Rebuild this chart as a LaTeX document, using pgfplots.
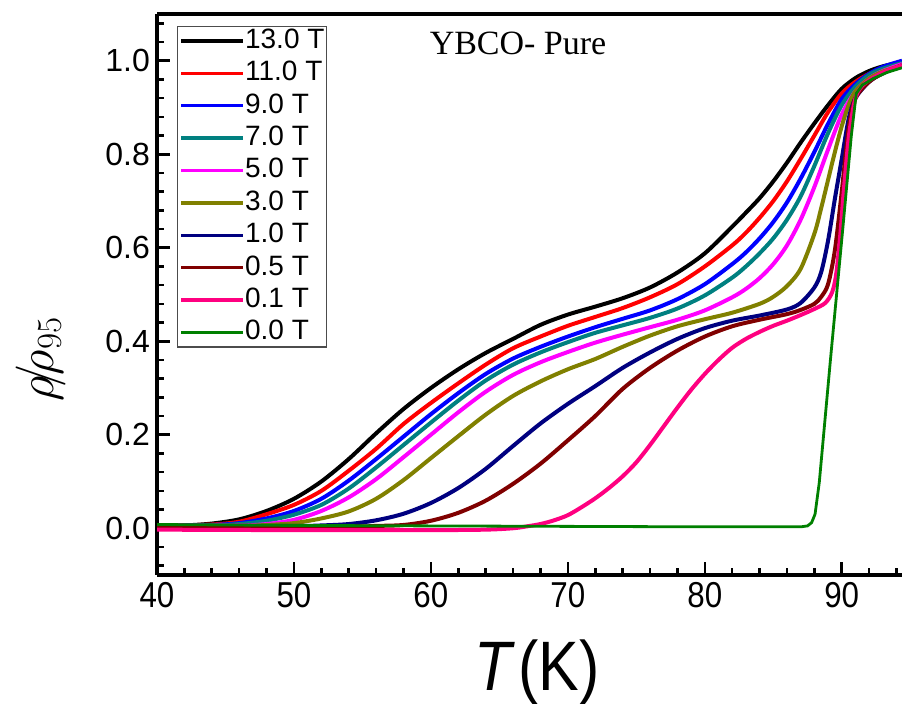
\RequirePackage{fix-cm}
\documentclass[border=0pt]{standalone}
\usepackage{fontspec}
\setmainfont{Liberation Sans}
\newfontfamily\narrowsans[FakeStretch=0.87]{Liberation Sans}
\newfontfamily\timesfont{Liberation Serif}
\usepackage{pgfplots}
\pgfplotsset{compat=1.18}

\definecolor{cteal}{RGB}{0,128,128}
\definecolor{cmagenta}{RGB}{255,0,255}
\definecolor{colive}{RGB}{128,128,0}
\definecolor{cnavy}{RGB}{0,0,128}
\definecolor{cmaroon}{RGB}{128,0,0}
\definecolor{cpink}{RGB}{255,0,128}
\definecolor{cgreen}{RGB}{0,128,0}

\begin{document}
\begin{tikzpicture}
\begin{axis}[%
scale only axis,
width=372.5pt,
height=280.5pt,
xmin=40, xmax=94.4,
ymin=-0.1, ymax=1.1,
axis x line*=box,
axis y line*=left,
xtick pos=left,
ytick pos=left,
axis line style={line width=2pt},
tick style={line width=1.3pt, black},
major tick length=6.5pt,
minor tick length=3.5pt,
xtick={40,50,60,70,80,90},
ytick={0,0.2,0.4,0.6,0.8,1.0},
minor xtick={40,42,...,94},
minor ytick={-0.08,-0.04,...,1.09},
/pgf/number format/assume math mode=true,
xticklabel style={font=\narrowsans\fontsize{18}{20}\selectfont},
yticklabel style={font=\fontsize{16}{18}\selectfont,
  /pgf/number format/.cd,fixed,fixed zerofill,precision=1},
xlabel={{\narrowsans\fontsize{35}{40}\selectfont\textit{T}\kern1.5pt(K)}},
xlabel style={at={(axis description cs:0.51,-0.205)},anchor=base},
ylabel={\fontsize{25}{28}\selectfont$\rho\mkern-4mu/\mkern-4mu\rho_{95}$},
ylabel style={at={(axis description cs:-0.156,0.385)},anchor=center},
legend style={at={(0.027,0.979)},anchor=north west,
  draw=black!70, line width=0.6pt, inner xsep=1pt, inner ysep=0pt,
  font=\fontsize{14}{16}\selectfont, row sep=1.7pt,
  nodes={inner sep=0pt, text height=11pt, text depth=3.5pt}},
legend cell align=left,
legend image code/.code={\draw[#1,line width=1.7pt] (0pt,0pt) -- (31pt,0pt);},
every axis plot/.append style={line width=2pt},
]

% 13.0 T
\addplot [black, smooth] coordinates {
(40,0.005)(42,0.006)(44,0.010)(46,0.019)(48,0.037)(50,0.063)(52,0.1)(54,0.148)
(56,0.203)(58,0.255)(60,0.30)(62,0.34)(64,0.375)(66,0.405)(68,0.435)(70,0.457)
(72,0.474)(74,0.492)(76,0.515)(78,0.547)(80,0.588)(82,0.645)(83,0.675)(84,0.706)
(85,0.742)(86,0.782)(87,0.825)(88,0.866)(89,0.905)(90,0.94)(91,0.963)(92,0.978)
(93,0.988)(94.4,0.998)
};
% 11.0 T
\addplot [red, smooth] coordinates {
(40,0.005)(44,0.008)(46,0.014)(48,0.03)(50,0.05)(52,0.08)(54,0.123)(56,0.17)
(58,0.223)(60,0.268)(62,0.31)(64,0.35)(66,0.385)(68,0.41)(70,0.433)(72,0.452)
(74,0.471)(76,0.494)(78,0.522)(80,0.56)(82,0.605)(83,0.632)(84,0.664)(85,0.70)
(86,0.742)(87,0.79)(88,0.84)(89,0.89)(90,0.93)(91,0.955)(92,0.972)(93,0.984)
(94.4,0.996)
};
% 9.0 T
\addplot [blue, smooth] coordinates {
(40,0.005)(44,0.007)(46,0.011)(48,0.021)(50,0.037)(52,0.063)(54,0.102)(56,0.148)
(58,0.196)(60,0.244)(62,0.289)(64,0.33)(66,0.363)(68,0.388)(70,0.41)(72,0.43)
(74,0.448)(76,0.466)(78,0.49)(80,0.522)(82,0.565)(83,0.59)(84,0.62)(85,0.655)
(86,0.697)(87,0.748)(88,0.805)(89,0.865)(90,0.918)(91,0.95)(92,0.972)(93,0.987)
(94.4,1.0)
};
% 7.0 T
\addplot [cteal, smooth] coordinates {
(40,0.005)(44,0.006)(46,0.009)(48,0.016)(50,0.029)(52,0.05)(54,0.085)(56,0.13)
(58,0.178)(60,0.226)(62,0.273)(64,0.316)(66,0.35)(68,0.376)(70,0.398)(72,0.418)
(74,0.434)(76,0.45)(78,0.47)(80,0.498)(82,0.536)(83,0.56)(84,0.588)(85,0.62)
(86,0.66)(87,0.71)(88,0.775)(89,0.845)(90,0.905)(91,0.945)(92,0.97)(93,0.983)
(94.4,0.995)
};
% 5.0 T
\addplot [cmagenta, smooth] coordinates {
(40,0.005)(46,0.006)(48,0.009)(50,0.018)(52,0.037)(54,0.066)(56,0.105)(58,0.152)
(60,0.2)(62,0.248)(64,0.292)(66,0.328)(68,0.355)(70,0.377)(72,0.397)(74,0.414)
(76,0.43)(78,0.446)(80,0.466)(82,0.494)(83,0.512)(84,0.535)(85,0.565)(86,0.605)
(87,0.66)(88,0.73)(89,0.81)(90,0.885)(91,0.935)(92,0.962)(93,0.978)(94.4,0.993)
};
% 3.0 T
\addplot [colive, smooth] coordinates {
(40,0.005)(46,0.005)(48,0.007)(50,0.011)(52,0.021)(54,0.036)(56,0.063)(58,0.103)
(60,0.15)(62,0.197)(64,0.243)(66,0.283)(68,0.314)(70,0.34)(72,0.362)(74,0.388)
(76,0.412)(78,0.432)(80,0.447)(82,0.461)(84,0.48)(85,0.495)(86,0.518)(87,0.555)
(88,0.63)(88.5,0.685)(89,0.745)(89.5,0.805)(90,0.86)(90.5,0.905)(91,0.935)
(92,0.962)(93,0.977)(94.4,0.99)
};
% 1.0 T
\addplot [cnavy, smooth] coordinates {
(40,0.005)(50,0.005)(52,0.006)(54,0.009)(56,0.017)(58,0.031)(60,0.054)(62,0.086)
(64,0.127)(66,0.176)(68,0.224)(70,0.266)(72,0.304)(74,0.343)(76,0.376)(78,0.405)
(80,0.428)(82,0.444)(84,0.455)(86,0.468)(87,0.482)(88,0.515)(88.5,0.548)(89,0.615)
(89.5,0.705)(90,0.79)(90.5,0.875)(91,0.92)(92,0.955)(93,0.973)(94.4,0.99)
};
% 0.5 T
\addplot [cmaroon, smooth] coordinates {
(40,0.004)(54,0.004)(56,0.005)(58,0.007)(60,0.016)(62,0.033)(64,0.059)(66,0.095)
(68,0.138)(70,0.188)(72,0.24)(74,0.298)(76,0.343)(78,0.38)(80,0.41)(82,0.432)
(84,0.446)(86,0.458)(87,0.467)(88,0.48)(88.5,0.495)(89,0.522)(89.5,0.595)(90,0.72)
(90.5,0.855)(91,0.92)(92,0.955)(93,0.973)(94.4,0.99)
};
% 0.1 T
\addplot [cpink, smooth] coordinates {
(40,-0.003)(50,-0.004)(60,-0.004)(64,-0.003)(66,0.0)(67,0.004)(68,0.009)(69,0.017)
(70,0.028)(71,0.045)(72,0.064)(73,0.086)(74,0.111)(75,0.141)(76,0.178)(77,0.218)
(78,0.258)(79,0.296)(80,0.33)(81,0.36)(82,0.386)(83,0.405)(84,0.42)(85,0.433)
(86,0.444)(87,0.456)(88,0.469)(88.8,0.482)(89.3,0.505)(89.6,0.545)(89.9,0.63)
(90.2,0.74)(90.55,0.845)(91.03,0.923)(91.7,0.952)(93,0.975)(94.4,0.99)
};
% 0.0 T
\addplot [cgreen, line width=1.4pt] coordinates {
(40,0.008)(50,0.006)(60,0.005)(70,0.004)(80,0.003)(87,0.003)(87.5,0.005)(87.8,0.012)
(88.05,0.03)(88.36,0.098)(89.16,0.356)(90.06,0.636)(90.7,0.84)(91.06,0.93)(91.5,0.948)
(92.3,0.962)(93.3,0.975)(94.4,0.985)
};

\addlegendentry{13.0 T}
\addlegendentry{11.0 T}
\addlegendentry{9.0 T}
\addlegendentry{7.0 T}
\addlegendentry{5.0 T}
\addlegendentry{3.0 T}
\addlegendentry{1.0 T}
\addlegendentry{0.5 T}
\addlegendentry{0.1 T}
\addlegendentry{0.0 T}

\node[anchor=base west, font=\timesfont\fontsize{17}{20}\selectfont] at (axis cs:59.4,1.013) {YBCO- Pure};
\end{axis}
\pgfresetboundingbox
\useasboundingbox ([xshift=-78.5pt,yshift=-64.5pt]current axis.south west) rectangle ([yshift=7pt]current axis.north east);
\end{tikzpicture}
\end{document}
